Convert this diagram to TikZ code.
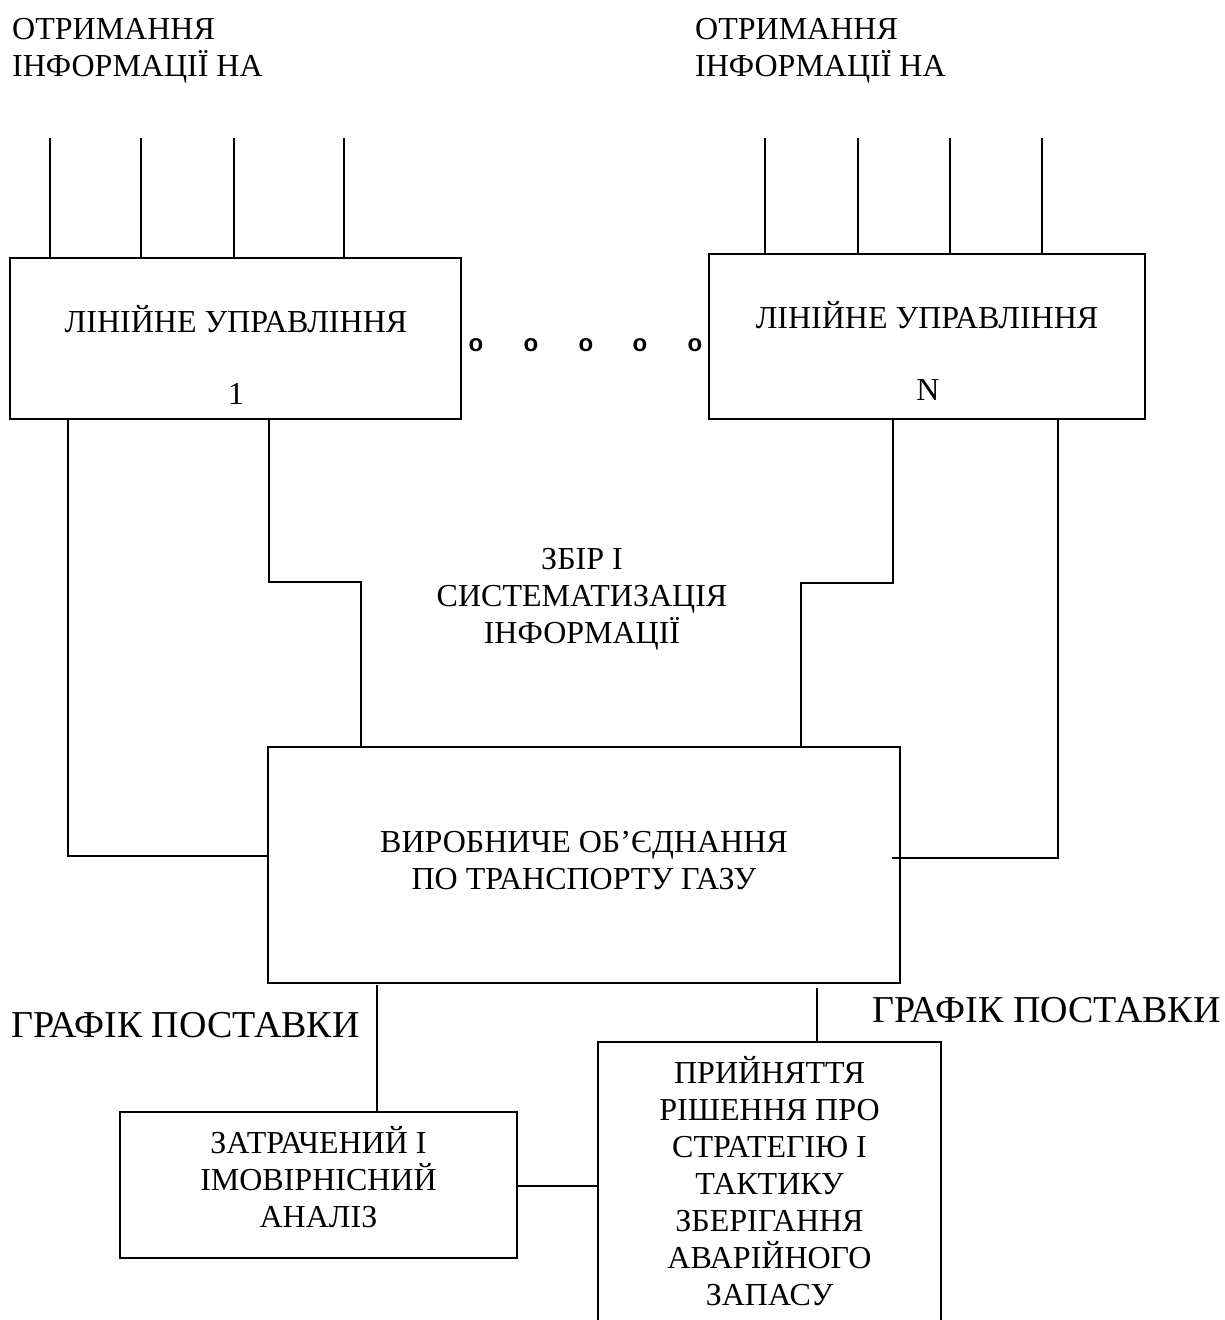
\documentclass[tikz,border=0pt]{standalone}
\usepackage{fontspec}
\setmainfont{Liberation Serif}
\newfontfamily\dotsfont{Liberation Sans}
\newcommand\txtfont{\fontsize{32}{37}\selectfont}
\newcommand\bigtxtfont{\fontsize{38}{42}\selectfont}
\begin{document}
\begin{tikzpicture}[x=1pt,y=-1pt,
  box/.style={draw, line width=1.6pt, inner sep=0pt},
  lbl/.style={inner sep=0pt, font=\txtfont, align=center},
  biglbl/.style={inner sep=0pt, font=\bigtxtfont},
  dotlbl/.style={inner sep=0pt, font=\dotsfont\bfseries\fontsize{24}{24}\selectfont},
  wire/.style={line width=1.6pt}]
\useasboundingbox (0,0) rectangle (1225,1320);

% boxes
\node[box, minimum width=451pt, minimum height=161pt] (lu1) at (235.5,338.5) {};
\node[box, minimum width=436pt, minimum height=165pt] (lun) at (927,336.5) {};
\node[box, minimum width=632pt, minimum height=236pt] (main) at (584,865) {};
\node[box, minimum width=397pt, minimum height=146pt] (zatr) at (318.5,1185) {};
\node[box, minimum width=343pt, minimum height=282pt] (dec) at (769.5,1183) {};

% texts
\node[lbl, anchor=west, align=left] (topl) at (12,51) {ОТРИМАННЯ\\ІНФОРМАЦІЇ НА};
\node[lbl, anchor=west, align=left] (topr) at (695,51) {ОТРИМАННЯ\\ІНФОРМАЦІЇ НА};
\node[lbl, anchor=base] (lu1t) at (236,332) {ЛІНІЙНЕ УПРАВЛІННЯ};
\node[lbl, anchor=base] (lu1n) at (236,404) {1};
\node[lbl, anchor=base] (lunt) at (927,328) {ЛІНІЙНЕ УПРАВЛІННЯ};
\node[lbl, anchor=base] (lunn) at (928,400) {N};
\node[lbl] (coll) at (582,599) {ЗБІР І\\СИСТЕМАТИЗАЦІЯ\\ІНФОРМАЦІЇ};
\node[lbl] (maint) at (584,861) {ВИРОБНИЧЕ ОБ’ЄДНАННЯ\\ПО ТРАНСПОРТУ ГАЗУ};
\node[biglbl, anchor=base west] (grl) at (11,1037) {ГРАФІК ПОСТАВКИ};
\node[biglbl, anchor=base west] (grr) at (872,1022) {ГРАФІК ПОСТАВКИ};
\node[lbl] (zatrt) at (318.5,1177) {ЗАТРАЧЕНИЙ І\\ІМОВІРНІСНИЙ\\АНАЛІЗ};
\node[lbl] (dect) at (769.5,1181) {ПРИЙНЯТТЯ\\РІШЕННЯ ПРО\\СТРАТЕГІЮ І\\ТАКТИКУ\\ЗБЕРІГАННЯ\\АВАРІЙНОГО\\ЗАПАСУ};

% dots
\node[dotlbl] (d1) at (476,345) {o};
\node[dotlbl] (d2) at (531,345) {o};
\node[dotlbl] (d3) at (586,345) {o};
\node[dotlbl] (d4) at (640,345) {o};
\node[dotlbl] (d5) at (695,345) {o};

% input lines
\foreach \i/\x in {1/50,2/141,3/234,4/344} {
  \coordinate (inl\i) at (\x,138);
  \draw[wire] (inl\i) -- (inl\i |- lu1.north);
}
\foreach \i/\x in {1/765,2/858,3/950,4/1042} {
  \coordinate (inr\i) at (\x,138);
  \draw[wire] (inr\i) -- (inr\i |- lun.north);
}

% connectors from linear managements to main
\coordinate (aL) at (68,856);
\draw[wire] (lu1.south -| aL) -- (aL) -- (main.west |- aL);
\coordinate (bL) at (269,582);
\coordinate (bL2) at (361,582);
\draw[wire] (lu1.south -| bL) -- (bL) -- (bL2) -- (main.north -| bL2);
\coordinate (bR) at (893,583);
\coordinate (bR2) at (801,583);
\draw[wire] (lun.south -| bR) -- (bR) -- (bR2) -- (main.north -| bR2);
\coordinate (aR) at (1058,858);
\coordinate (aRend) at (892,858);
\draw[wire] (lun.south -| aR) -- (aR) -- (aRend);

% lower connectors
\coordinate (cL) at (377,985);
\draw[wire] (cL) -- (zatr.north -| cL);
\coordinate (cR) at (817,988);
\draw[wire] (cR) -- (dec.north -| cR);
\draw[wire] (zatr.east |- 0,1186) -- (dec.west |- 0,1186);
\end{tikzpicture}
\end{document}
